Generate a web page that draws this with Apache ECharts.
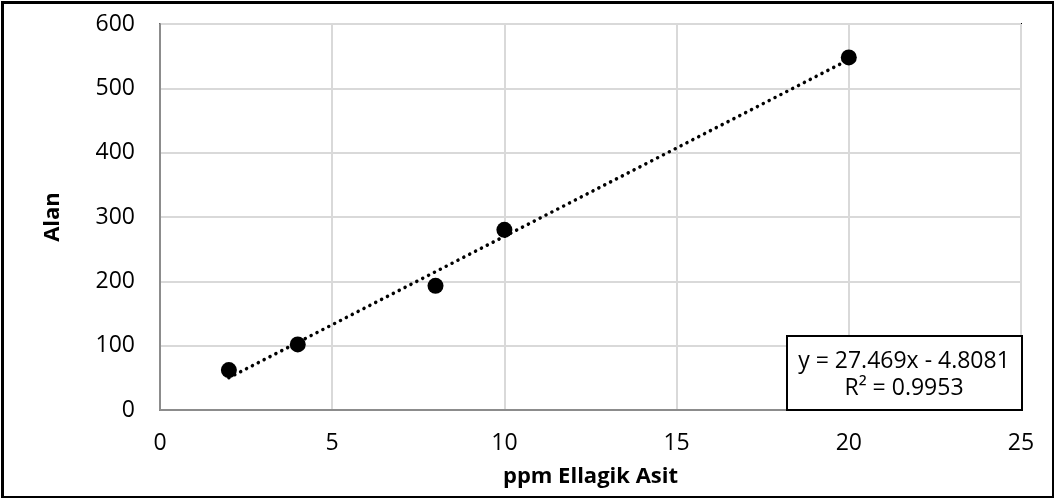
<!DOCTYPE html>
<html>
<head>
<meta charset="utf-8">
<script src="https://cdn.jsdelivr.net/npm/echarts@6/dist/echarts.min.js"></script>
<style>
  html, body { margin: 0; padding: 0; background: #fff; }
  #chart { width: 1054px; height: 498px; }
</style>
</head>
<body>
<div id="chart"></div>
<script>
// measured points
var ppm = [2, 4, 8, 10, 20];
var alan = [62, 102, 193, 280, 548];

// linear trend as printed on the chart
var slope = 27.469;
var intercept = -4.8081;
var eqText = 'y = 27.469x - 4.8081';
var r2Text = 'R² = 0.9953';

var xTicks = [0, 5, 10, 15, 20, 25];
var yTicks = [0, 100, 200, 300, 400, 500, 600];

var points = ppm.map(function (x, i) { return [x, alan[i]]; });
var xMinData = Math.min.apply(null, ppm);
var xMaxData = Math.max.apply(null, ppm);
var trend = [
  [xMinData, slope * xMinData + intercept],
  [xMaxData, slope * xMaxData + intercept]
];

var font = '"Open Sans", "Liberation Sans", sans-serif';

var chart = echarts.init(document.getElementById('chart'), null, { renderer: 'canvas' });

var option = {
  backgroundColor: '#fff',
  animation: false,
  grid: {
    left: 160,
    right: 33,
    top: 24,
    bottom: 88,
    show: true,
    borderColor: '#000',
    borderWidth: 2,
    backgroundColor: 'transparent'
  },
  xAxis: {
    type: 'value',
    min: xTicks[0],
    max: xTicks[xTicks.length - 1],
    interval: 5,
    name: 'ppm Ellagik Asit',
    nameLocation: 'middle',
    nameGap: 56,
    nameTextStyle: { fontFamily: font, fontSize: 22, fontWeight: 'bold', color: '#000' },
    axisLine: { show: true, onZero: false, lineStyle: { color: '#8c8c8c', width: 2 } },
    axisTick: { show: false },
    axisLabel: { fontFamily: font, fontSize: 23, color: '#000', margin: 22 },
    splitLine: { show: true, lineStyle: { color: '#d9d9d9', width: 2 } }
  },
  yAxis: {
    type: 'value',
    min: yTicks[0],
    max: yTicks[yTicks.length - 1],
    interval: 100,
    name: 'Alan',
    nameLocation: 'middle',
    nameGap: 96,
    nameRotate: 90,
    nameTextStyle: { fontFamily: font, fontSize: 22, fontWeight: 'bold', color: '#000' },
    axisLine: { show: true, onZero: false, lineStyle: { color: '#8c8c8c', width: 2 } },
    axisTick: { show: false },
    axisLabel: { fontFamily: font, fontSize: 23, color: '#000', margin: 25 },
    splitLine: { show: true, lineStyle: { color: '#d9d9d9', width: 2 } }
  },
  series: [
    {
      name: 'trend',
      type: 'line',
      data: trend,
      symbol: 'none',
      silent: true,
      z: 3,
      lineStyle: { color: '#000', width: 3.5, type: [0.1, 6.5], cap: 'round' }
    },
    {
      name: 'Alan',
      type: 'scatter',
      data: points,
      symbol: 'circle',
      symbolSize: 16,
      z: 4,
      itemStyle: { color: '#000', opacity: 1 }
    }
  ],
  graphic: [
    {
      type: 'rect',
      left: 0, top: 0, z: 100, silent: true,
      shape: { x: 1.5, y: 1.5, width: 1051, height: 495 },
      style: { fill: 'none', stroke: '#000', lineWidth: 3 }
    },
    {
      type: 'rect',
      z: 100, silent: true,
      shape: { x: 787, y: 336, width: 235, height: 74 },
      style: { fill: '#fff', stroke: '#000', lineWidth: 2 }
    },
    {
      type: 'text',
      z: 101, silent: true,
      style: {
        x: 904, y: 361, text: eqText, align: 'center', verticalAlign: 'middle',
        font: '23px ' + font, fill: '#000'
      }
    },
    {
      type: 'text',
      z: 101, silent: true,
      style: {
        x: 904, y: 388, text: r2Text, align: 'center', verticalAlign: 'middle',
        font: '23px ' + font, fill: '#000'
      }
    }
  ]
};

chart.setOption(option);
</script>
</body>
</html>
